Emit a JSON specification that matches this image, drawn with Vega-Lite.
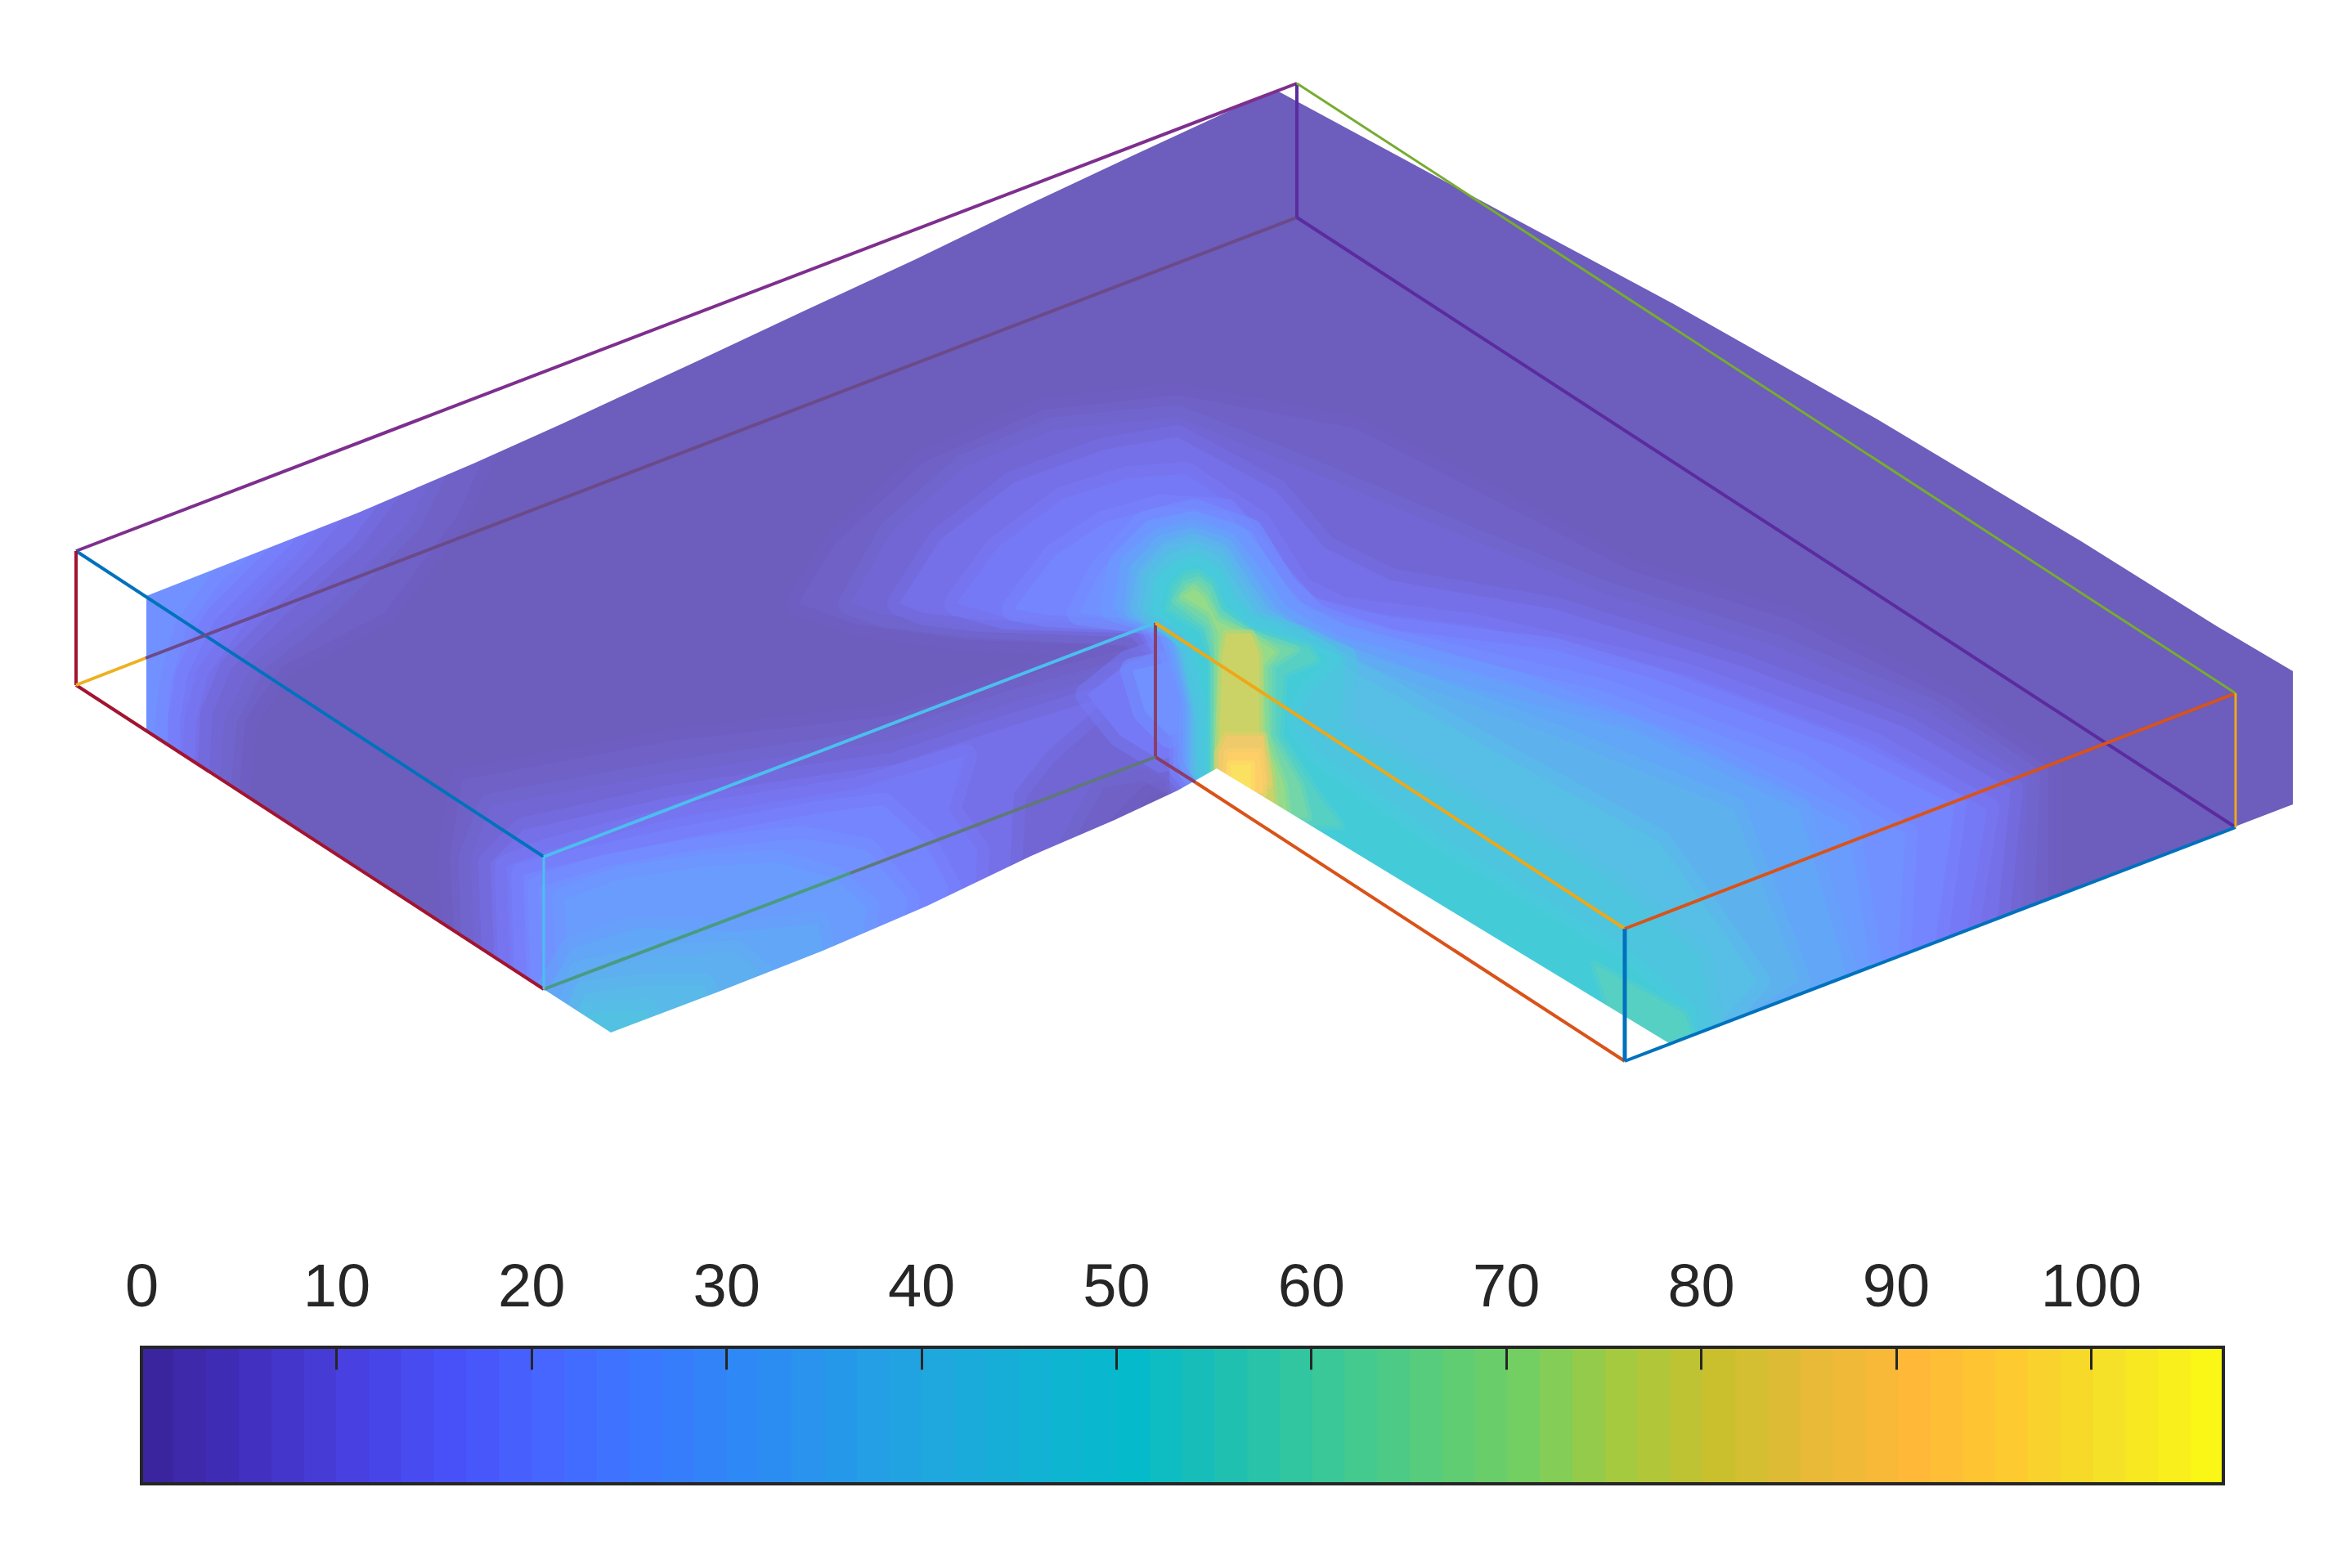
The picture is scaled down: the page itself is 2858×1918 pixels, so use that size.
{"$schema":"https://vega.github.io/schema/vega-lite/v6.json","width":2858,"height":1918,"padding":0,"autosize":{"type":"none"},"background":"white","config":{"view":{"stroke":null}},
"resolve":{"scale":{"stroke":"independent"}},
"layer":[
{"data":{"values":[
{"v":1,"geo":{"type":"Polygon","coordinates":[[[100,60],[2850,60],[2850,1320],[100,1320],[100,60]]]}},
{"v":3,"geo":{"type":"Polygon","coordinates":[[[100,700],[600,540],[560,630],[470,750],[345,815],[300,880],[290,1000],[100,1000],[100,700]]]}},
{"v":3,"geo":{"type":"Polygon","coordinates":[[[556,1150],[550,1048],[565,954],[821,906],[1094,875],[1277,819],[1413,785],[1440,800],[1440,950],[1400,960],[1340,1020],[1200,1080],[700,1300],[600,1200],[556,1150]]]}},
{"v":3,"geo":{"type":"Polygon","coordinates":[[[976,738],[1021,665],[1130,565],[1276,501],[1440,483],[1658,524],[1995,698],[2186,757],[2386,856],[2505,939],[2505,1200],[2100,1300],[1800,1300],[1490,1000],[1440,950],[1440,850],[1413,791],[1185,783],[1049,764],[976,738]]]}},
{"v":6,"geo":{"type":"Polygon","coordinates":[[[100,700],[540,560],[500,640],[400,740],[310,810],[275,880],[268,960],[100,960],[100,700]]]}},
{"v":6,"geo":{"type":"Polygon","coordinates":[[[580,1170],[575,1050],[600,985],[821,945],[1094,905],[1250,855],[1400,815],[1440,830],[1440,960],[1400,940],[1340,950],[1290,1040],[1200,1100],[700,1300],[580,1170]]]}},
{"v":6,"geo":{"type":"Polygon","coordinates":[[[1040,738],[1090,650],[1180,570],[1290,525],[1440,510],[1600,575],[1800,660],[1960,725],[2170,790],[2360,870],[2480,950],[2470,1200],[2042,1300],[1490,1000],[1440,960],[1430,815],[1380,775],[1185,765],[1080,752],[1040,738]]]}},
{"v":10,"geo":{"type":"Polygon","coordinates":[[[100,700],[490,580],[430,660],[340,740],[270,810],[245,870],[240,960],[100,960],[100,700]]]}},
{"v":10,"geo":{"type":"Polygon","coordinates":[[[605,1190],[600,1055],[640,1015],[821,975],[1094,935],[1230,890],[1360,850],[1280,920],[1240,970],[1235,1060],[1180,1110],[760,1290],[605,1190]]]}},
{"v":10,"geo":{"type":"Polygon","coordinates":[[[1100,738],[1150,660],[1240,590],[1350,550],[1440,535],[1560,600],[1620,670],[1700,710],[1900,745],[2130,815],[2330,890],[2459,965],[2435,1200],[2042,1300],[1490,1000],[1445,960],[1440,820],[1390,765],[1200,758],[1130,750],[1100,738]]]}},
{"v":14,"geo":{"type":"Polygon","coordinates":[[[100,700],[430,600],[370,670],[290,750],[240,820],[225,880],[222,960],[100,960],[100,700]]]}},
{"v":14,"geo":{"type":"Polygon","coordinates":[[[625,1210],[620,1060],[670,1040],[830,1000],[1050,965],[1180,925],[1160,990],[1195,1040],[1190,1130],[760,1290],[625,1210]]]}},
{"v":14,"geo":{"type":"Polygon","coordinates":[[[1330,850],[1380,810],[1440,790],[1470,800],[1470,910],[1420,930],[1370,900],[1330,850]]]}},
{"v":14,"geo":{"type":"Polygon","coordinates":[[[1170,738],[1220,670],[1300,610],[1380,585],[1450,580],[1540,640],[1590,720],[1640,745],[1800,765],[2060,825],[2290,910],[2430,990],[2395,1200],[2042,1300],[1495,1000],[1445,950],[1445,830],[1400,760],[1230,755],[1170,738]]]}},
{"v":18,"geo":{"type":"Polygon","coordinates":[[[100,700],[380,620],[310,690],[250,750],[215,820],[205,880],[205,960],[100,960],[100,700]]]}},
{"v":18,"geo":{"type":"Polygon","coordinates":[[[645,1220],[640,1070],[700,1055],[840,1025],[1000,995],[1080,985],[1130,1030],[1160,1085],[1150,1150],[760,1290],[645,1220]]]}},
{"v":18,"geo":{"type":"Polygon","coordinates":[[[1240,745],[1290,680],[1350,640],[1420,620],[1500,625],[1560,700],[1600,745],[1700,770],[1900,795],[2020,830],[2250,915],[2390,985],[2360,1200],[2042,1300],[1495,1000],[1445,940],[1445,830],[1405,758],[1280,752],[1240,745]]]}},
{"v":22,"geo":{"type":"Polygon","coordinates":[[[100,700],[330,640],[260,700],[215,760],[195,830],[190,880],[190,960],[100,960],[100,700]]]}},
{"v":22,"geo":{"type":"Polygon","coordinates":[[[665,1230],[660,1085],[740,1060],[850,1040],[980,1025],[1060,1040],[1110,1100],[1100,1160],[760,1290],[665,1230]]]}},
{"v":22,"geo":{"type":"Polygon","coordinates":[[[1385,820],[1470,800],[1470,880],[1430,900],[1400,870],[1385,820]]]}},
{"v":22,"geo":{"type":"Polygon","coordinates":[[[1320,750],[1345,700],[1400,640],[1460,625],[1530,650],[1570,715],[1610,755],[1700,785],[1960,845],[2200,935],[2330,1020],[2320,1200],[2042,1300],[1500,1000],[1450,935],[1450,840],[1420,770],[1410,762],[1320,750]]]}},
{"v":26,"geo":{"type":"Polygon","coordinates":[[[700,1240],[690,1100],[760,1075],[860,1060],[950,1055],[1020,1075],[1060,1110],[1050,1190],[770,1300],[700,1240]]]}},
{"v":26,"geo":{"type":"Polygon","coordinates":[[[1360,745],[1370,690],[1410,650],[1460,640],[1510,655],[1545,700],[1575,745],[1640,778],[1850,835],[2100,930],[2260,1010],[2290,1200],[2042,1300],[1505,1000],[1455,930],[1458,850],[1430,765],[1360,745]]]}},
{"v":30,"geo":{"type":"Polygon","coordinates":[[[640,1260],[700,1160],[780,1135],[900,1140],[1000,1130],[1010,1180],[770,1300],[640,1260]]]}},
{"v":30,"geo":{"type":"Polygon","coordinates":[[[1380,745],[1385,690],[1420,660],[1460,650],[1500,665],[1530,705],[1560,750],[1620,790],[1780,835],[2000,895],[2200,990],[2260,1200],[2042,1300],[1510,1000],[1462,930],[1462,860],[1440,770],[1380,745]]]}},
{"v":34,"geo":{"type":"Polygon","coordinates":[[[680,1280],[710,1190],[800,1170],[900,1165],[930,1190],[770,1300],[680,1280]]]}},
{"v":35,"geo":{"type":"Polygon","coordinates":[[[1390,745],[1395,700],[1425,668],[1460,660],[1495,672],[1520,710],[1550,755],[1600,790],[1700,825],[1900,900],[2120,990],[2200,1200],[2042,1300],[1520,1000],[1466,935],[1466,860],[1445,768],[1390,745]]]}},
{"v":38,"geo":{"type":"Polygon","coordinates":[[[690,1290],[715,1215],[790,1205],[860,1205],[870,1225],[770,1300],[690,1290]]]}},
{"v":40,"geo":{"type":"Polygon","coordinates":[[[1398,745],[1405,705],[1430,678],[1460,668],[1490,680],[1512,715],[1540,755],[1590,785],[1680,835],[1830,920],[2030,1030],[2150,1200],[2060,1300],[1520,1000],[1470,940],[1470,865],[1450,772],[1398,745]]]}},
{"v":42,"geo":{"type":"Polygon","coordinates":[[[700,1290],[720,1240],[790,1235],[800,1260],[760,1290],[700,1290]]]}},
{"v":45,"geo":{"type":"Polygon","coordinates":[[[1410,750],[1412,710],[1435,688],[1462,680],[1488,692],[1505,725],[1530,760],[1590,780],[1645,805],[1640,890],[1780,970],[1960,1070],[2080,1170],[2100,1300],[2060,1300],[1530,1000],[1474,945],[1474,870],[1455,780],[1410,750]]]}},
{"v":50,"geo":{"type":"Polygon","coordinates":[[[1420,750],[1425,715],[1440,700],[1462,692],[1483,705],[1498,735],[1525,765],[1590,785],[1625,805],[1590,840],[1570,880],[1600,930],[1760,1040],[1980,1170],[2060,1240],[2060,1290],[1800,1300],[1530,1000],[1478,945],[1478,880],[1460,790],[1420,750]]]}}
]},"mark":{"type":"geoshape","strokeWidth":30,"strokeOpacity":0.5,"strokeJoin":"round"},"projection":{"type":"identity","scale":1,"translate":[0,0]},"encoding":{"shape":{"field":"geo","type":"geojson"},"fill":{"field":"v","type":"quantitative","legend":null,"scale":{"interpolate":"rgb","domain":[0,5,10,15,20,25,30,40,50,55,60,70,75,80,85,90,95,100,106.8],"range":["#3a259f","#4230c0","#4840e0","#4850f8","#4666ff","#3a78ff","#2e88f5","#1fa8dd","#05bbcb","#1fc0b0","#3ac898","#72cf62","#a4c93f","#c9c02d","#e8b938","#ffb838","#fdca30","#f5e028","#fbfd10"]}},"stroke":{"field":"v","type":"quantitative","legend":null,"scale":{"interpolate":"rgb","domain":[0,5,10,15,20,25,30,40,50,55,60,70,75,80,85,90,95,100,106.8],"range":["#3a259f","#4230c0","#4840e0","#4850f8","#4666ff","#3a78ff","#2e88f5","#1fa8dd","#05bbcb","#1fc0b0","#3ac898","#72cf62","#a4c93f","#c9c02d","#e8b938","#ffb838","#fdca30","#f5e028","#fbfd10"]}}}},
{"data":{"values":[
{"v":55,"geo":{"type":"Polygon","coordinates":[[[1430,745],[1435,718],[1450,703],[1465,700],[1482,712],[1495,745],[1530,772],[1600,792],[1610,808],[1570,825],[1565,900],[1610,970],[1640,1010],[1560,1010],[1495,1000],[1482,960],[1482,800],[1470,770],[1430,745]]]}},
{"v":55,"geo":{"type":"Polygon","coordinates":[[[1950,1180],[2060,1240],[2080,1300],[1990,1300],[1950,1180]]]}},
{"v":62,"geo":{"type":"Polygon","coordinates":[[[1438,735],[1450,715],[1465,710],[1478,720],[1490,750],[1530,775],[1585,795],[1555,815],[1555,900],[1590,960],[1600,1000],[1500,1000],[1485,950],[1485,800],[1478,765],[1438,735]]]}},
{"v":70,"geo":{"type":"Polygon","coordinates":[[[1447,730],[1460,720],[1472,730],[1488,760],[1535,780],[1560,797],[1545,815],[1548,900],[1570,960],[1575,1000],[1500,1000],[1488,950],[1490,800],[1490,775],[1480,750],[1447,730]]]}},
{"v":78,"geo":{"type":"Polygon","coordinates":[[[1500,775],[1530,775],[1540,800],[1540,900],[1555,945],[1560,1000],[1495,1000],[1490,930],[1495,800],[1500,775]]]}},
{"v":85,"geo":{"type":"Polygon","coordinates":[[[1500,900],[1545,900],[1552,960],[1490,960],[1490,920],[1500,900]]]}},
{"v":92,"geo":{"type":"Polygon","coordinates":[[[1502,920],[1540,920],[1545,970],[1495,970],[1502,920]]]}},
{"v":98,"geo":{"type":"Polygon","coordinates":[[[1505,935],[1530,935],[1530,970],[1505,970],[1505,935]]]}}
]},"mark":{"type":"geoshape","strokeWidth":10,"strokeOpacity":0.5,"strokeJoin":"round"},"projection":{"type":"identity","scale":1,"translate":[0,0]},"encoding":{"shape":{"field":"geo","type":"geojson"},"fill":{"field":"v","type":"quantitative","legend":null},"stroke":{"field":"v","type":"quantitative","legend":null,"scale":{"interpolate":"rgb","domain":[0,5,10,15,20,25,30,40,50,55,60,70,75,80,85,90,95,100,106.8],"range":["#3a259f","#4230c0","#4840e0","#4850f8","#4666ff","#3a78ff","#2e88f5","#1fa8dd","#05bbcb","#1fc0b0","#3ac898","#72cf62","#a4c93f","#c9c02d","#e8b938","#ffb838","#fdca30","#f5e028","#fbfd10"]}}}},
{"data":{"values":[{"name":"veil","geo":{"type":"Polygon","coordinates":[[[0,0],[2858,0],[2858,1500],[0,1500],[0,0]]]}}]},"mark":{"type":"geoshape","fill":"white","fillOpacity":0.25,"stroke":null},"projection":{"type":"identity","scale":1,"translate":[0,0]},"encoding":{"shape":{"field":"geo","type":"geojson"}}},
{"data":{"values":[{"name":"outside","geo":{"type":"Polygon","coordinates":[[[0,0],[0,1500],[2858,1500],[2858,0],[0,0]],[[179,729],[329,670],[436,628],[579,567],[686,519],[850,443],[984,380],[1118,318],[1252,253],[1386,190],[1520,128],[1562,111],[1799,239],[2047,372],[2296,513],[2545,662],[2711,766],[2804,821],[2804,984],[2041,1276],[1488,940],[1440,967],[1363,1003],[1261,1047],[1134,1108],[1006,1163],[879,1213],[747,1263],[665,1210],[179,893],[179,729]]]}}]},"mark":{"type":"geoshape","fill":"white","stroke":null},"projection":{"type":"identity","scale":1,"translate":[0,0]},"encoding":{"shape":{"field":"geo","type":"geojson"}}},
{"data":{"values":[
{"edge":"top back left","geo":{"type":"LineString","coordinates":[[1586,102],[93,674]]}},
{"edge":"top left front","geo":{"type":"LineString","coordinates":[[93,674],[665,1048]]}},
{"edge":"left post","geo":{"type":"LineString","coordinates":[[93,674],[93,838]]}},
{"edge":"bottom left front","geo":{"type":"LineString","coordinates":[[93,838],[665,1210]]}},
{"edge":"bottom back outer","geo":{"type":"LineString","coordinates":[[93,838],[178,805]]}},
{"edge":"bottom back inner","geo":{"type":"LineString","coordinates":[[178,805],[1586,266]]}},
{"edge":"back post","geo":{"type":"LineString","coordinates":[[1586,102],[1586,266]]}},
{"edge":"back post","geo":{"type":"LineString","coordinates":[[1586,266],[2734,1012]]}},
{"edge":"notch top","geo":{"type":"LineString","coordinates":[[665,1048],[1413,762]]}},
{"edge":"notch post","geo":{"type":"LineString","coordinates":[[1413,762],[1413,926]]}},
{"edge":"notch post","geo":{"type":"LineString","coordinates":[[1413,926],[1462,957]]}},
{"edge":"notch base a","geo":{"type":"LineString","coordinates":[[665,1210],[1040,1068]]}},
{"edge":"notch base b","geo":{"type":"LineString","coordinates":[[1040,1068],[1413,926]]}},
{"edge":"right front bottom","geo":{"type":"LineString","coordinates":[[1462,957],[1987,1298]]}},
{"edge":"right front top","geo":{"type":"LineString","coordinates":[[1413,762],[1987,1136]]}},
{"edge":"front end top","geo":{"type":"LineString","coordinates":[[1987,1136],[2734,848]]}},
{"edge":"front end base","geo":{"type":"LineString","coordinates":[[1987,1298],[2734,1012]]}}
]},"mark":{"type":"geoshape","filled":false,"strokeWidth":4},"projection":{"type":"identity","scale":1,"translate":[0,0]},"encoding":{"shape":{"field":"geo","type":"geojson"},"stroke":{"field":"edge","type":"nominal","legend":null,"scale":{"domain":["top back left","top left front","left post","bottom left front","bottom back outer","bottom back inner","back post","notch top","notch post","notch base a","notch base b","right front bottom","right front top","front end top","front end base"],"range":["#7E2F8E","#0072BD","#A2142F","#A2142F","#EDB120","#6b4a88","#5a2ca0","#4DBEEE","#8a3d68","#4a9a80","#607878","#D95319","#EDA818","#D95319","#0072BD"]}}}},
{"data":{"values":[
{"edge":"thin green","geo":{"type":"LineString","coordinates":[[1586,102],[2734,848]]}},
{"edge":"thin orange","geo":{"type":"LineString","coordinates":[[2734,848],[2734,1012]]}},
{"edge":"thin cyan","geo":{"type":"LineString","coordinates":[[665,1048],[665,1210]]}}
]},"mark":{"type":"geoshape","filled":false,"strokeWidth":3},"projection":{"type":"identity","scale":1,"translate":[0,0]},"encoding":{"shape":{"field":"geo","type":"geojson"},"stroke":{"field":"edge","type":"nominal","legend":null,"scale":{"domain":["thin green","thin orange","thin cyan"],"range":["#77AC30","#EDA818","#4DBEEE"]}}}},
{"data":{"values":[
{"edge":"blue post","geo":{"type":"LineString","coordinates":[[1987,1136],[1987,1298]]}}
]},"mark":{"type":"geoshape","filled":false,"strokeWidth":5},"projection":{"type":"identity","scale":1,"translate":[0,0]},"encoding":{"shape":{"field":"geo","type":"geojson"},"stroke":{"field":"edge","type":"nominal","legend":null,"scale":{"domain":["blue post"],"range":["#0072BD"]}}}},
{"data":{"values":[{"a":0,"b":1.67},{"a":1.67,"b":3.34},{"a":3.34,"b":5.01},{"a":5.01,"b":6.68},{"a":6.68,"b":8.35},{"a":8.35,"b":10.01},{"a":10.01,"b":11.68},{"a":11.68,"b":13.35},{"a":13.35,"b":15.02},{"a":15.02,"b":16.69},{"a":16.69,"b":18.36},{"a":18.36,"b":20.03},{"a":20.03,"b":21.7},{"a":21.7,"b":23.37},{"a":23.37,"b":25.03},{"a":25.03,"b":26.7},{"a":26.7,"b":28.37},{"a":28.37,"b":30.04},{"a":30.04,"b":31.71},{"a":31.71,"b":33.38},{"a":33.38,"b":35.05},{"a":35.05,"b":36.72},{"a":36.72,"b":38.39},{"a":38.39,"b":40.05},{"a":40.05,"b":41.72},{"a":41.72,"b":43.39},{"a":43.39,"b":45.06},{"a":45.06,"b":46.73},{"a":46.73,"b":48.4},{"a":48.4,"b":50.07},{"a":50.07,"b":51.74},{"a":51.74,"b":53.4},{"a":53.4,"b":55.07},{"a":55.07,"b":56.74},{"a":56.74,"b":58.41},{"a":58.41,"b":60.08},{"a":60.08,"b":61.75},{"a":61.75,"b":63.42},{"a":63.42,"b":65.09},{"a":65.09,"b":66.76},{"a":66.76,"b":68.43},{"a":68.43,"b":70.09},{"a":70.09,"b":71.76},{"a":71.76,"b":73.43},{"a":73.43,"b":75.1},{"a":75.1,"b":76.77},{"a":76.77,"b":78.44},{"a":78.44,"b":80.11},{"a":80.11,"b":81.78},{"a":81.78,"b":83.45},{"a":83.45,"b":85.11},{"a":85.11,"b":86.78},{"a":86.78,"b":88.45},{"a":88.45,"b":90.12},{"a":90.12,"b":91.79},{"a":91.79,"b":93.46},{"a":93.46,"b":95.13},{"a":95.13,"b":96.8},{"a":96.8,"b":98.47},{"a":98.47,"b":100.14},{"a":100.14,"b":101.8},{"a":101.8,"b":103.47},{"a":103.47,"b":105.14},{"a":105.14,"b":106.8}]},
"mark":{"type":"rect","strokeWidth":1},"encoding":{"x":{"field":"a","type":"quantitative","scale":{"domain":[0,106.8],"range":[173,2719],"nice":false,"zero":false},"axis":{"orient":"top","offset":-1648,"title":null,"grid":false,"domain":false,"values":[0,10,20,30,40,50,60,70,80,90,100],"tickSize":-27,"tickWidth":3,"tickColor":"#262626","labelFontSize":74,"labelFont":"Liberation Sans","labelColor":"#262626","labelPadding":62,"labelFlush":false,"labelOverlap":false,"zindex":1,"format":"d"}},"x2":{"field":"b"},"y":{"datum":0,"type":"quantitative","scale":{"domain":[0,1],"range":[1815,1648]},"axis":null},"y2":{"datum":1},"fill":{"field":"a","type":"quantitative","legend":null},"stroke":{"field":"a","type":"quantitative","legend":null,"scale":{"interpolate":"rgb","domain":[0,5,10,15,20,25,30,40,50,55,60,70,75,80,85,90,95,100,106.8],"range":["#3a259f","#4230c0","#4840e0","#4850f8","#4666ff","#3a78ff","#2e88f5","#1fa8dd","#05bbcb","#1fc0b0","#3ac898","#72cf62","#a4c93f","#c9c02d","#e8b938","#ffb838","#fdca30","#f5e028","#fbfd10"]}}}},
{"data":{"values":[{"lo":0,"hi":106.8}]},"mark":{"type":"rect","fillOpacity":0,"stroke":"#262626","strokeWidth":4},"encoding":{"x":{"field":"lo","type":"quantitative"},"x2":{"field":"hi"},"y":{"datum":0,"type":"quantitative"},"y2":{"datum":1}}}
]}
